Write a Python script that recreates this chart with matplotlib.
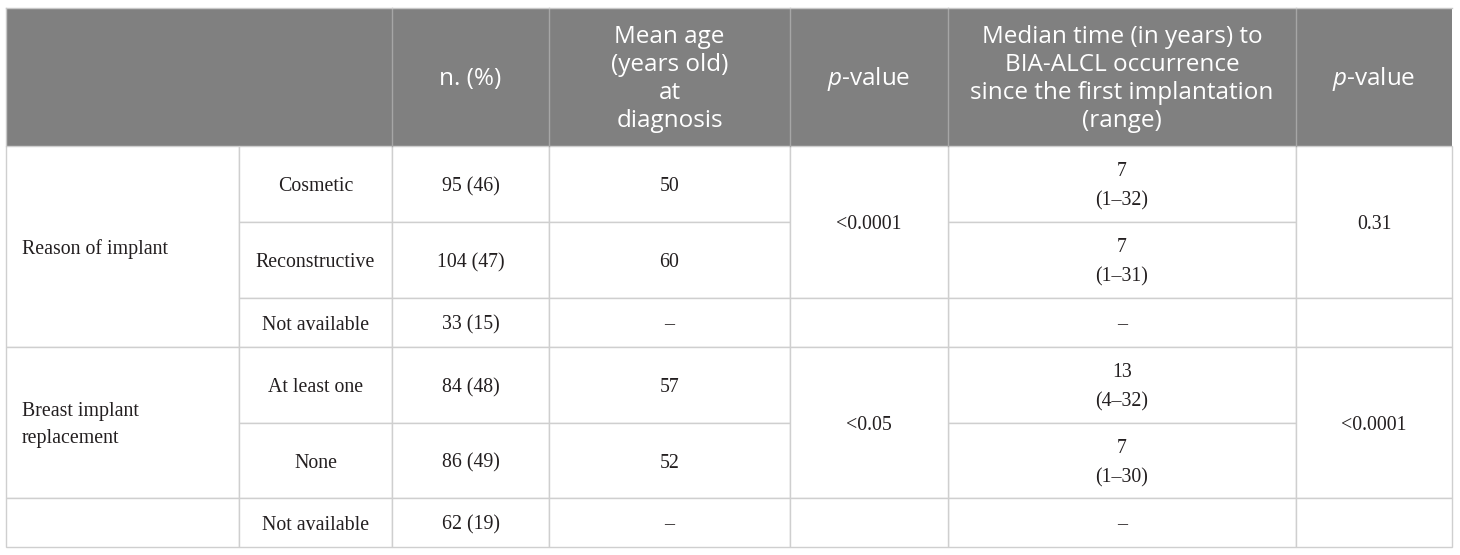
import matplotlib
matplotlib.use("Agg")
import matplotlib.pyplot as plt
from matplotlib.patches import Rectangle

# ---------------- data ----------------
header_labels = ["", "n. (%)", "Mean age\n(years old)\nat\ndiagnosis", r"$\mathit{p}$-value",
                 "Median time (in years) to\nBIA-ALCL occurrence\nsince the first implantation\n(range)",
                 r"$\mathit{p}$-value"]
groups = ["Reason of implant", "Breast implant\nreplacement", ""]
subcats = ["Cosmetic", "Reconstructive", "Not available", "At least one", "None", "Not available"]
n_count = [95, 104, 33, 84, 86, 62]
n_pct = [46, 47, 15, 48, 49, 19]
mean_age = [50, 60, None, 57, 52, None]
p_age = ["<0.0001", "", "<0.05", ""]
median_time = [7, 7, None, 13, 7, None]
range_lo = [1, 1, None, 4, 1, None]
range_hi = [32, 31, None, 32, 30, None]
p_time = ["0.31", "", "<0.0001", ""]

# ---------------- layout ----------------
W, H = 1460, 555
col_edges = [6, 239, 392, 549, 790, 948, 1296, 1452]
head_top, head_bot = 8, 146
row_edges = [146, 222, 298, 347, 423, 498, 547]
group_spans = [(0, 3), (3, 5), (5, 6)]
p_spans = [(0, 2), (2, 3), (3, 5), (5, 6)]

HEAD_BG = "#808080"
HEAD_LINE = "#a6a6a6"
BODY_LINE = "#cfcfcf"
TXT = "#231f20"

plt.rcParams["mathtext.fontset"] = "custom"
plt.rcParams["mathtext.it"] = "Open Sans:italic"
plt.rcParams["mathtext.rm"] = "Open Sans"

fig = plt.figure(figsize=(W / 100, H / 100), dpi=100)
ax = fig.add_axes([0, 0, 1, 1])
ax.set_xlim(0, W)
ax.set_ylim(H, 0)
ax.axis("off")

HEAD_FS = 17.5
BODY_FS = 14.3
DY = 2.5


def cell(c0, c1, r0, r1, fill, edge, lw=1.0, z=1):
    ax.add_patch(Rectangle((c0, r0), c1 - c0, r1 - r0, facecolor=fill,
                           edgecolor=edge, linewidth=lw, zorder=z))


# header
ax.add_patch(Rectangle((col_edges[0], head_top), col_edges[-1] - col_edges[0],
                       head_bot - head_top, facecolor=HEAD_BG, edgecolor="none", zorder=1))
head_cols = [(0, 2), (2, 3), (3, 4), (4, 5), (5, 6), (6, 7)]
for i, (a, b) in enumerate(head_cols):
    x0, x1 = col_edges[a], col_edges[b]
    if i > 0:
        ax.plot([x0, x0], [head_top, head_bot], color=HEAD_LINE, lw=1.0, zorder=2)
    if header_labels[i]:
        ax.text((x0 + x1) / 2, (head_top + head_bot) / 2 + 2, header_labels[i],
                ha="center", va="center", color="white", fontsize=HEAD_FS,
                family="Open Sans", linespacing=1.22, zorder=3)
ax.plot([col_edges[0], col_edges[-1]], [head_top, head_top], color="#c8c8c8", lw=1.0, zorder=2)
ax.plot([col_edges[0], col_edges[0]], [head_top, head_bot], color="#c8c8c8", lw=1.0, zorder=2)


def body_text(x, y, s, ha="center", ls=1.7):
    ax.text(x, y + DY, s, ha=ha, va="center", color=TXT, fontsize=BODY_FS,
            family="Liberation Serif", linespacing=ls, zorder=4)


# group column
for g, (r0, r1) in zip(groups, group_spans):
    y0, y1 = row_edges[r0], row_edges[r1]
    cell(col_edges[0], col_edges[1], y0, y1, "white", BODY_LINE)
    if g:
        body_text(col_edges[0] + 16, (y0 + y1) / 2, g, ha="left", ls=1.62)

# per-row columns
for r in range(len(subcats)):
    y0, y1 = row_edges[r], row_edges[r + 1]
    yc = (y0 + y1) / 2
    vals = [
        (1, subcats[r]),
        (2, f"{n_count[r]} ({n_pct[r]})"),
        (3, "\u2013" if mean_age[r] is None else f"{mean_age[r]}"),
        (5, "\u2013" if median_time[r] is None else f"{median_time[r]}\n({range_lo[r]}\u2013{range_hi[r]})"),
    ]
    for c, s in vals:
        cell(col_edges[c], col_edges[c + 1], y0, y1, "white", BODY_LINE)
        body_text((col_edges[c] + col_edges[c + 1]) / 2, yc, s)

# p-value columns (merged)
for c, plist in [(4, p_age), (6, p_time)]:
    for s, (r0, r1) in zip(plist, p_spans):
        y0, y1 = row_edges[r0], row_edges[r1]
        cell(col_edges[c], col_edges[c + 1], y0, y1, "white", BODY_LINE)
        if s:
            body_text((col_edges[c] + col_edges[c + 1]) / 2, (y0 + y1) / 2, s)

fig.savefig("out.png", dpi=100, facecolor="white")
